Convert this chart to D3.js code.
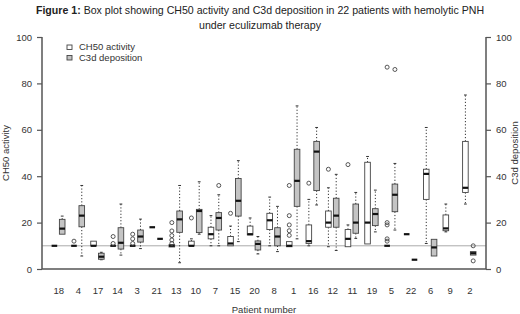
<!DOCTYPE html>
<html>
<head>
<meta charset="utf-8">
<script src="https://cdn.jsdelivr.net/npm/d3@7"></script>
<style>
	body { margin: 0; background: #fff; }
	text { font-family: "Liberation Sans", Arial, sans-serif; fill: #333; }
</style>
</head>
<body>
<div id="container"></div>
<script>

// patients, in the order of the x axis
var patients = [18, 4, 17, 14, 3, 21, 13, 10, 7, 15, 20, 8, 1, 16, 12, 11, 19, 5, 22, 6, 9, 2];

// CH50 activity (white boxes): whisker low, Q1, median, Q3, whisker high
var ch50Low  = [10, 10, 10, 10, 10, 18, 9.5, 10, 10, 10, 14.7, 10, 9.6, 10, 9.6, 9.6, 10.8, 10, 15, 11, 16, 28];
var ch50Q1   = [10, 10, 10, 10, 10, 18, 9.5, 10, 13, 10, 14.7, 17, 9.6, 11, 18, 9.6, 10.8, 10, 15, 30, 16.5, 33];
var ch50Med  = [10, 10, 10, 10, 10, 18, 10, 10, 15, 11, 15, 21, 10, 12, 20, 13, 20, 10, 15, 41, 17.5, 35];
var ch50Q3   = [10, 10, 12, 10, 10, 18, 10.5, 12, 18, 14, 18.5, 24, 11.8, 19, 25, 17, 46, 10, 15, 43, 23.3, 55];
var ch50High = [10, 10, 12, 10, 10, 18, 10.5, 13, 23, 18.5, 22, 31, 11.8, 30, 35, 19, 48.5, 10, 15, 61, 28, 75];
var ch50Out  = [[], [12], [], [14, 11], [15, 13, 11], [], [20, 16.4, 14.4, 12.5, 11], [22], [], [24], [], [],
	[36, 23, 19, 16.5, 14.5], [37], [43], [45], [], [87, 20, 19, 13, 12], [], [], [], []];

// C3d deposition (grey boxes), null = not measured
var c3dLow  = [15, 5.6, 4, 6, 8.8, 13, 2.7, 15, 10, 11.8, 6.5, 7.5, 13, 27.6, 8, 13.2, 16, 16.8, 4, 5.6, null, 6];
var c3dQ1   = [15, 18.2, 4.2, 8.6, 11.6, 13, 15.8, 15.7, 16.8, 22.8, 8.2, 10, 27, 33.8, 18, 15.4, 18.7, 24.7, 4, 5.6, null, 6];
var c3dMed  = [17.4, 23, 5.3, 11.3, 14, 13, 21.4, 25, 22, 29.4, 10.8, 14, 38, 50.6, 23, 20, 23.7, 32, 4, 9.3, null, 6.8];
var c3dQ3   = [21.4, 27.3, 6.8, 17.8, 16.8, 13, 25, 25.7, 24.3, 39, 12.1, 17.8, 51.6, 55, 30.5, 28, 26, 36.6, 4, 12.8, null, 7.5];
var c3dHigh = [22.8, 36, 7.2, 28, 21.5, 13, 36, 37.6, 32, 46.7, 14, 27, 70.3, 61, 40.8, 33, 34, 45.5, 4, 12.8, null, 7.5];
var c3dOut  = [[], [], [], [], [], [], [], [], [36], [], [], [], [], [], [], [], [], [86], [], [], [], [10, 3.5]];

var yTicks = [0, 20, 40, 60, 80, 100];
var refLine = 10;

var width = 520, height = 314;

var svg = d3.select("#container").append("svg")
	.attr("width", width)
	.attr("height", height);

var x = d3.scalePoint().domain(patients).range([58.3, 469.3]);
var y = d3.scaleLinear().domain([0, 100]).range([269, 37]);

var plotLeft = 42, plotRight = 486;
var offset = 3.9, boxW = 5.6;

// title
var title = svg.append("text")
	.attr("x", width / 2)
	.attr("y", 14)
	.style("text-anchor", "middle")
	.style("font-size", "10.6px")
	.style("fill", "#222");
title.append("tspan").style("font-weight", "bold").text("Figure 1:");
title.append("tspan").text(" Box plot showing CH50 activity and C3d deposition in 22 patients with hemolytic PNH");
svg.append("text")
	.attr("x", width / 2)
	.attr("y", 29)
	.style("text-anchor", "middle")
	.style("font-size", "10.6px")
	.style("fill", "#222")
	.text("under eculizumab therapy");

// reference line
svg.append("line")
	.attr("x1", plotLeft).attr("x2", plotRight)
	.attr("y1", y(refLine)).attr("y2", y(refLine))
	.style("stroke", "#aaa")
	.style("stroke-width", 1);

// frame (left, bottom, right)
svg.append("path")
	.attr("d", "M" + plotLeft + "," + y(100) + "V" + y(0) + "H" + plotRight + "V" + y(100))
	.style("fill", "none")
	.style("stroke", "#555")
	.style("stroke-width", 1.5);

// axes
var yAxisL = svg.append("g")
	.attr("transform", "translate(" + plotLeft + ",0)")
	.call(d3.axisLeft(y).tickValues(yTicks).tickSize(5).tickSizeOuter(0).tickPadding(5));
var yAxisR = svg.append("g")
	.attr("transform", "translate(" + plotRight + ",0)")
	.call(d3.axisRight(y).tickValues(yTicks).tickSize(5).tickSizeOuter(0).tickPadding(5));
[yAxisL, yAxisR].forEach(function(a) {
	a.select(".domain").remove();
	a.selectAll("line").style("stroke", "#555").style("stroke-width", 1.2);
	a.selectAll("text").style("font-size", "9.5px").style("fill", "#333").style("font-family", "Liberation Sans, Arial, sans-serif");
});

var xAxis = svg.append("g")
	.attr("transform", "translate(0," + y(0) + ")")
	.call(d3.axisBottom(x).tickSize(0).tickPadding(18));
xAxis.select(".domain").remove();
xAxis.selectAll("text").style("font-size", "9.5px").style("fill", "#333").style("font-family", "Liberation Sans, Arial, sans-serif");

// axis labels
svg.append("text")
	.attr("transform", "translate(9," + y(50) + ") rotate(-90)")
	.style("text-anchor", "middle")
	.style("font-size", "9.5px")
	.text("CH50 activity");
svg.append("text")
	.attr("transform", "translate(518," + y(50) + ") rotate(-90)")
	.style("text-anchor", "middle")
	.style("font-size", "9.5px")
	.text("C3d deposition");
svg.append("text")
	.attr("x", (plotLeft + plotRight) / 2)
	.attr("y", 313)
	.style("text-anchor", "middle")
	.style("font-size", "9.5px")
	.text("Patient number");

// build the box data
var boxes = [];
patients.forEach(function(p, i) {
	boxes.push({p: p, dx: -offset, fill: "#fff", lo: ch50Low[i], q1: ch50Q1[i], med: ch50Med[i], q3: ch50Q3[i], hi: ch50High[i], out: ch50Out[i]});
	if (c3dMed[i] !== null) {
		boxes.push({p: p, dx: offset, fill: "#c4c4c4", lo: c3dLow[i], q1: c3dQ1[i], med: c3dMed[i], q3: c3dQ3[i], hi: c3dHigh[i], out: c3dOut[i]});
	}
});

var g = svg.selectAll(".box")
	.data(boxes).enter()
	.append("g")
		.attr("class", "box")
		.attr("transform", function(d) { return "translate(" + (x(d.p) + d.dx) + ",0)"; });

// whiskers
g.append("line")
	.attr("y1", function(d) { return y(d.q3); })
	.attr("y2", function(d) { return y(d.hi); })
	.style("stroke", "#333").style("stroke-width", 1).style("stroke-dasharray", "1.2,2");
g.append("line")
	.attr("y1", function(d) { return y(d.q1); })
	.attr("y2", function(d) { return y(d.lo); })
	.style("stroke", "#333").style("stroke-width", 1).style("stroke-dasharray", "1.2,2");
// staples
g.filter(function(d) { return d.hi > d.q3; }).append("line")
	.attr("x1", -1.4).attr("x2", 1.4)
	.attr("y1", function(d) { return y(d.hi); })
	.attr("y2", function(d) { return y(d.hi); })
	.style("stroke", "#333").style("stroke-width", 1);
g.filter(function(d) { return d.lo < d.q1; }).append("line")
	.attr("x1", -1.4).attr("x2", 1.4)
	.attr("y1", function(d) { return y(d.lo); })
	.attr("y2", function(d) { return y(d.lo); })
	.style("stroke", "#333").style("stroke-width", 1);

// box
g.append("rect")
	.attr("x", -boxW / 2)
	.attr("width", boxW)
	.attr("y", function(d) { return y(d.q3); })
	.attr("height", function(d) { return y(d.q1) - y(d.q3); })
	.style("fill", function(d) { return d.fill; })
	.style("stroke", "#444")
	.style("stroke-width", 0.9);

// median
g.append("line")
	.attr("x1", -boxW / 2).attr("x2", boxW / 2)
	.attr("y1", function(d) { return y(d.med); })
	.attr("y2", function(d) { return y(d.med); })
	.style("stroke", "#111")
	.style("stroke-width", 2.2);

// outliers
g.selectAll(".out")
	.data(function(d) { return d.out; }).enter()
	.append("circle")
		.attr("class", "out")
		.attr("r", 2)
		.attr("cy", function(d) { return y(d); })
		.style("fill", "none")
		.style("stroke", "#444")
		.style("stroke-width", 0.9);

// legend
var legendItems = [{label: "CH50 activity", fill: "#fff"}, {label: "C3d deposition", fill: "#c4c4c4"}];
var legend = svg.selectAll(".legend")
	.data(legendItems).enter()
	.append("g")
		.attr("class", "legend")
		.attr("transform", function(d, i) { return "translate(67," + (45 + i * 10.5) + ")"; });
legend.append("rect")
	.attr("width", 5)
	.attr("height", 4.5)
	.style("fill", function(d) { return d.fill; })
	.style("stroke", "#444")
	.style("stroke-width", 0.9);
legend.append("text")
	.attr("x", 12)
	.attr("y", 5)
	.style("font-size", "9.5px")
	.text(function(d) { return d.label; });

</script>
</body>
</html>
